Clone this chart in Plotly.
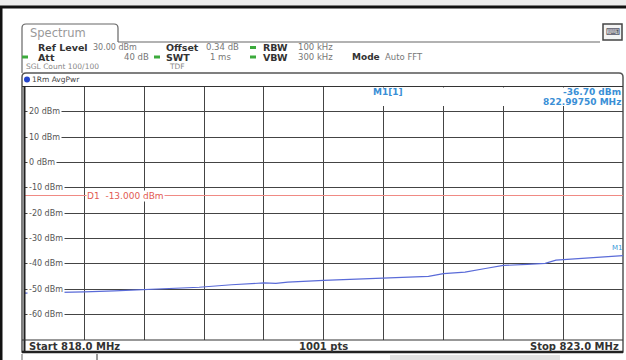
import plotly.graph_objects as go

# trace data (frequency in MHz, level in dBm)
freq_mhz = [818.0, 818.25, 818.5, 818.75, 819.0, 819.25, 819.46, 819.73, 820.0, 820.1,
            820.2, 820.5, 820.75, 821.0, 821.2, 821.375, 821.5, 821.68, 821.85, 822.0,
            822.2, 822.35, 822.44, 822.5, 822.75, 823.0]
power_dbm = [-51.5, -51.3, -51.0, -50.6, -50.2, -49.7, -49.2, -48.2, -47.5, -47.7,
             -47.2, -46.5, -46.0, -45.4, -45.1, -44.9, -43.8, -43.2, -41.8, -40.6,
             -40.2, -39.8, -38.5, -38.3, -37.5, -36.7]
y_ticks = [20, 10, 0, -10, -20, -30, -40, -50, -60]
y_tick_labels = ["20 dBm", "10 dBm", "0 dBm", "-10 dBm", "-20 dBm", "-30 dBm",
                 "-40 dBm", "-50 dBm", "-60 dBm"]
d1_level = -13.0
m1_freq = 822.9975
m1_level = -36.70

W, H = 626, 360
FONT = "DejaVu Sans"


def px(x):
    return x / W


def py(y):
    return 1 - y / H


fig = go.Figure()

fig.add_trace(go.Scatter(x=freq_mhz, y=power_dbm, mode="lines",
                         line=dict(color="#5a6bd8", width=1.2), hoverinfo="skip"))

fig.add_trace(go.Scatter(x=[818.0, 823.0], y=[d1_level, d1_level], mode="lines",
                         line=dict(color="#f08a84", width=1.2), hoverinfo="skip"))

shapes = []
annotations = []


def rect(x0, y0, x1, y1, fill, line=None, lw=0, layer="below"):
    shapes.append(dict(type="rect", xref="paper", yref="paper",
                       x0=px(x0), x1=px(x1), y0=py(y1), y1=py(y0),
                       fillcolor=fill, line=dict(color=line or fill, width=lw),
                       layer=layer))


def hline(x0, x1, y, color, w=1, layer="above"):
    shapes.append(dict(type="line", xref="paper", yref="paper",
                       x0=px(x0), x1=px(x1), y0=py(y), y1=py(y),
                       line=dict(color=color, width=w), layer=layer))


def vline(x, y0, y1, color, w=1, layer="above"):
    shapes.append(dict(type="line", xref="paper", yref="paper",
                       x0=px(x), x1=px(x), y0=py(y0), y1=py(y1),
                       line=dict(color=color, width=w), layer=layer))


def text(x, y, s, color="#777", size=8, bold=False, anchor="left", bg=None):
    if bold:
        s = "<b>" + s + "</b>"
    a = dict(xref="paper", yref="paper", x=px(x), y=py(y), text=s, showarrow=False,
             xanchor=anchor, yanchor="middle", font=dict(family=FONT, size=size, color=color),
             borderpad=0)
    if bg:
        a["bgcolor"] = bg
    annotations.append(a)


def dot(x, y, color):
    shapes.append(dict(type="rect", xref="paper", yref="paper",
                       x0=px(x - 3), x1=px(x + 3), y0=py(y + 1.5), y1=py(y - 1.5),
                       fillcolor=color, line=dict(color=color, width=0)))


# window chrome
rect(0, 0, W, 6, "#ececec")
hline(0, W, 7, "#111", 3)
vline(1, 7, H, "#111", 3)

# tab + panel outline
shapes.append(dict(type="path", xref="paper", yref="paper",
                   path=f"M {px(22)},{py(42)} L {px(22)},{py(28)} Q {px(22)},{py(24)} {px(26)},{py(24)} "
                        f"L {px(114)},{py(24)} Q {px(118)},{py(24)} {px(118)},{py(28)} L {px(118)},{py(42)}",
                   line=dict(color="#666", width=1.2)))
hline(118, 600, 42, "#666", 1.2)
shapes.append(dict(type="rect", xref="paper", yref="paper", x0=px(603), x1=px(622),
                   y0=py(40), y1=py(24), fillcolor="#f4f4f4", line=dict(color="#444", width=1.5)))
text(612.5, 31, "⌨", color="#556", size=10, anchor="center")
text(29, 33, "Spectrum", color="#999", size=11.5)
vline(22, 42, 73, "#666", 1.2)

# setting rows
r1, r2, r3 = 47.5, 57, 66.5
text(37, r1, "Ref Level", color="#333", size=9.5, bold=True)
text(92, r1, "30.00 dBm", size=8)
text(165, r1, "Offset", color="#333", size=9.5, bold=True)
text(205, r1, "0.34 dB", size=8.5)
dot(253, r1, "#3caa3c")
text(262, r1, "RBW", color="#333", size=9.5, bold=True)
text(297, r1, "100 kHz", size=8.5)

dot(25, r2, "#3caa3c")
text(37, r2, "Att", color="#333", size=9.5, bold=True)
text(150, r2, "40 dB", size=8.5, anchor="right")
dot(157, r2, "#3caa3c")
text(165, r2, "SWT", color="#333", size=9.5, bold=True)
text(232, r2, "1 ms", size=8.5, anchor="right")
dot(253, r2, "#3caa3c")
text(262, r2, "VBW", color="#333", size=9.5, bold=True)
text(297, r2, "300 kHz", size=8.5)
text(351, r2, "Mode", color="#333", size=9, bold=True)
text(384, r2, "Auto FFT", size=8.5)

text(25, r3, "SGL Count 100/100", color="#888", size=7.5)
text(168, r3, "TDF", color="#888", size=7.5)

# diagram frame
shapes.append(dict(type="path", xref="paper", yref="paper",
                   path=f"M {px(22)},{py(352)} L {px(22)},{py(77)} Q {px(22)},{py(73)} {px(26)},{py(73)} "
                        f"L {px(619)},{py(73)} Q {px(623)},{py(73)} {px(623)},{py(77)} L {px(623)},{py(352)} Z",
                   line=dict(color="#555", width=1.5), fillcolor="white", layer="below"))
shapes.append(dict(type="circle", xref="paper", yref="paper", x0=px(24), x1=px(30),
                   y0=py(82.5), y1=py(76.5), fillcolor="#2244cc", line=dict(width=0)))
text(30.5, 79.5, "1Rm AvgPwr", color="#444", size=7.5)
hline(22, 623, 86.5, "#333", 1.2)
vline(24.5, 86, 352, "#222", 2)
hline(22, 623, 340, "#333", 1.2)
hline(22, 623, 352, "#222", 2.5)

# white box behind the marker readout, covering the grid there
rect(368, 87.5, 622, 106, "white", layer="above")

# y labels drawn inside the grid
for v, lab in zip(y_ticks, y_tick_labels):
    annotations.append(dict(xref="paper", yref="y", x=px(27), y=v, text=lab, showarrow=False,
                            xanchor="left", yanchor="middle", bgcolor="white", borderpad=1,
                            font=dict(family=FONT, size=8, color="#555")))

# display line label
annotations.append(dict(xref="paper", yref="y", x=px(86), y=d1_level, text="D1  -13.000 dBm",
                        showarrow=False, xanchor="left", yanchor="middle", bgcolor="white",
                        borderpad=0, font=dict(family=FONT, size=9, color="#e25a52")))

# marker info
text(372, 92, "M1[1]", color="#3a8fd6", size=9, bold=True)
text(622, 92, "-36.70 dBm", color="#3a8fd6", size=9, bold=True, anchor="right")
text(622, 102, "822.99750 MHz", color="#3a8fd6", size=9, bold=True, anchor="right")
annotations.append(dict(xref="x", yref="y", x=m1_freq, y=m1_level, text="M1", showarrow=False,
                        xanchor="right", yanchor="bottom", xshift=2, yshift=2,
                        font=dict(family=FONT, size=7, color="#3a9ad8")))

# footer
text(28, 346, "Start 818.0 MHz", color="#333", size=10, bold=True)
text(324, 346, "1001 pts", color="#333", size=10, bold=True, anchor="center")
text(620, 346, "Stop 823.0 MHz", color="#333", size=10, bold=True, anchor="right")

# bits of the next panel below
vline(22, 354, 360, "#666", 1)
vline(97, 354, 360, "#999", 2)
rect(390, 355, 560, 360, "#e2e2e2")

fig.update_layout(
    width=W, height=H, margin=dict(l=0, r=0, t=0, b=0),
    paper_bgcolor="white", plot_bgcolor="white", showlegend=False,
    shapes=shapes, annotations=annotations,
    xaxis=dict(domain=[px(24.5), px(623)], range=[818.0, 823.0], dtick=0.5, tick0=818.0,
               showticklabels=False, ticks="", showgrid=True, gridcolor="#444", gridwidth=1.2,
               zeroline=False, fixedrange=True),
    yaxis=dict(domain=[py(340), py(86.5)], range=[-70, 30], dtick=10, tick0=-70,
               showticklabels=False, ticks="", showgrid=True, gridcolor="#444", gridwidth=1.2,
               zeroline=False, fixedrange=True),
)

# page margin off so the figure sits at the window's top-left corner
fig.write_html("out.html", config={"displayModeBar": False},
               post_script="document.body.style.margin='0';document.body.style.overflow='hidden';")
